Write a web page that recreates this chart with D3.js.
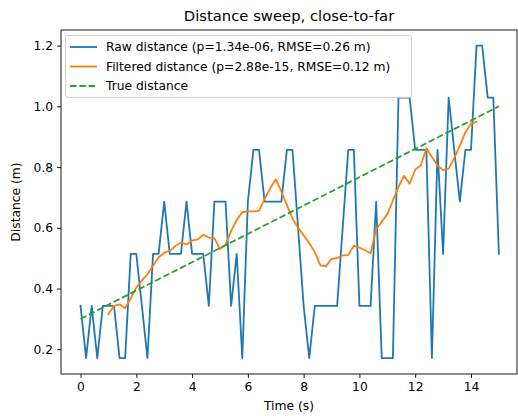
<!DOCTYPE html>
<html><head><meta charset="utf-8">
<script src="https://cdn.jsdelivr.net/npm/d3@7"></script>
<style>
body{margin:0;background:#fff;}
text{font-family:"DejaVu Sans",sans-serif;fill:#000;}
</style></head>
<body><svg id="c" width="518" height="416"></svg>
<script>
const rawDistance = [0.343,0.171,0.343,0.171,0.343,0.343,0.343,0.171,0.171,0.514,
0.514,0.343,0.171,0.514,0.514,0.686,0.514,0.514,0.514,0.686,
0.514,0.514,0.514,0.343,0.686,0.686,0.686,0.343,0.514,0.171,
0.686,0.857,0.857,0.686,0.686,0.686,0.686,0.857,0.857,0.6,
0.343,0.171,0.343,0.343,0.343,0.343,0.343,0.6,0.857,0.857,
0.343,0.343,0.343,0.686,0.171,0.171,0.171,1.029,1.029,1.029,
0.857,0.857,0.857,0.171,0.857,0.514,1.029,0.857,0.686,0.857,
0.857,1.2,1.2,1.029,1.029,0.514];
const timeStep = 0.2;
const filteredStart = 5;
const filteredDistance = [0.315,0.343,0.348,0.335,0.368,0.403,0.427,0.447,0.475,0.503,
0.518,0.524,0.54,0.552,0.545,0.558,0.562,0.577,0.568,0.566,
0.53,0.545,0.59,0.625,0.652,0.654,0.654,0.656,0.695,0.73,
0.76,0.72,0.675,0.63,0.60,0.575,0.55,0.52,0.476,0.473,
0.498,0.50,0.509,0.51,0.541,0.535,0.526,0.516,0.595,0.62,
0.645,0.69,0.735,0.771,0.745,0.792,0.805,0.862,0.833,0.805,
0.79,0.795,0.83,0.87,0.915,0.943,0.949];
const trueDistance = [[0,0.3],[15,1.0]];
const xTicks = [0,2,4,6,8,10,12,14];
const yTicks = [0.2,0.4,0.6,0.8,1.0,1.2];
const legendLabels = ["Raw distance (p=1.34e-06, RMSE=0.26 m)","Filtered distance (p=2.88e-15, RMSE=0.12 m)","True distance"];
const colors = ["#1f77b4","#ff7f0e","#2ca02c"];

const rawPts = rawDistance.map((v,i)=>[i*timeStep, v]);
const filtPts = filteredDistance.map((v,i)=>[(i+filteredStart)*timeStep, v]);

const svg = d3.select("#c");
const L=61, R=517, T=30, B=374;
const FS = "12.3px";
const x = d3.scaleLinear().domain([-0.7,15.65]).range([L,R]);
const y = d3.scaleLinear().domain([0.1185,1.2515]).range([B,T]);

const xAxis = svg.append("g").attr("transform",`translate(0,${B})`)
  .call(d3.axisBottom(x).tickValues(xTicks).tickFormat(d3.format("d")).tickSizeOuter(0).tickSize(4).tickPadding(4));
const yAxis = svg.append("g").attr("transform",`translate(${L},0)`)
  .call(d3.axisLeft(y).tickValues(yTicks).tickFormat(d3.format(".1f")).tickSizeOuter(0).tickSize(4).tickPadding(4));
[xAxis,yAxis].forEach(g=>{
  g.select(".domain").remove();
  g.selectAll("text").attr("font-size",FS).attr("font-family","DejaVu Sans").attr("fill","#000");
  g.selectAll("line").attr("stroke","#000").attr("stroke-width",0.9);
});

const line = d3.line().x(d=>x(d[0])).y(d=>y(d[1]));
const plot = svg.append("g");
plot.append("path").datum(rawPts).attr("d",line).attr("fill","none").attr("stroke",colors[0]).attr("stroke-width",1.8).attr("stroke-linejoin","round").attr("stroke-linecap","square");
plot.append("path").datum(filtPts).attr("d",line).attr("fill","none").attr("stroke",colors[1]).attr("stroke-width",1.8).attr("stroke-linejoin","round").attr("stroke-linecap","square");
plot.append("path").datum(trueDistance).attr("d",line).attr("fill","none").attr("stroke",colors[2]).attr("stroke-width",1.8).attr("stroke-dasharray","6.5,2.8");

svg.append("rect").attr("x",L).attr("y",T).attr("width",R-L).attr("height",B-T)
  .attr("fill","none").attr("stroke","#000").attr("stroke-width",0.9);

// legend
const lg = svg.append("g");
lg.append("rect").attr("x",65.5).attr("y",35.5).attr("width",346).attr("height",62).attr("rx",2.5)
  .attr("fill","#fff").attr("fill-opacity",0.8).attr("stroke","#cccccc").attr("stroke-width",0.9);
legendLabels.forEach((lab,i)=>{
  const yy = 47 + i*19.5;
  lg.append("line").attr("x1",70).attr("x2",97).attr("y1",yy).attr("y2",yy)
    .attr("stroke",colors[i]).attr("stroke-width",1.8).attr("stroke-dasharray", i===2?"6.5,2.8":null);
  lg.append("text").attr("x",106).attr("y",yy+4.4).attr("font-size",FS).text(lab);
});

svg.append("text").attr("x",(L+R)/2).attr("y",21).attr("text-anchor","middle").attr("font-size","14.8px").text("Distance sweep, close-to-far");
svg.append("text").attr("x",(L+R)/2).attr("y",410).attr("text-anchor","middle").attr("font-size",FS).text("Time (s)");
svg.append("text").attr("transform",`translate(20,${(T+B)/2}) rotate(-90)`).attr("text-anchor","middle").attr("font-size",FS).text("Distance (m)");
</script></body></html>
